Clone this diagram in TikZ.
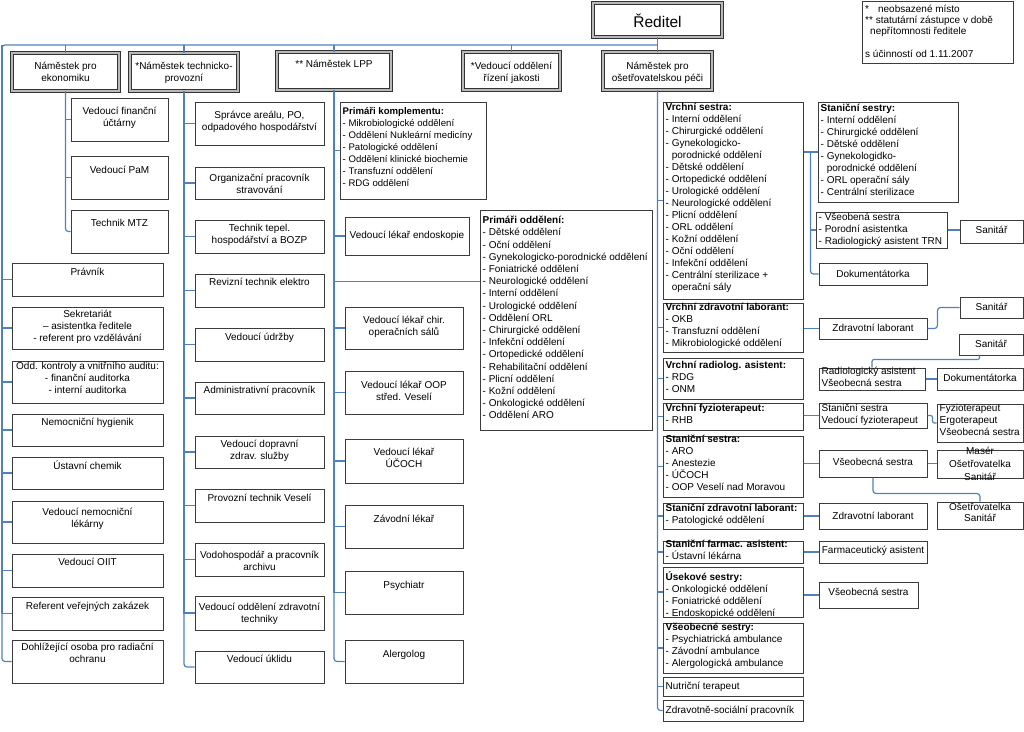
\documentclass[tikz,border=0pt]{standalone}
\usepackage{fontspec}
\setmainfont{Liberation Sans}
\usetikzlibrary{fit}
\definecolor{conncol}{RGB}{79,129,189}
\definecolor{boxcol}{RGB}{60,60,60}
\tikzset{
  bx/.style={draw=boxcol, line width=1pt, inner sep=0pt, rectangle},
  dbx/.style={draw=black!80, double=gray!55, double distance=1.5pt, line width=0.8pt, inner sep=0pt, rectangle},
  conn/.style={draw=conncol, line width=1.2pt},
  ctxt/.style={inner sep=0pt, align=center, font=\fontsize{10}{12}\selectfont, execute at begin node=\strut, execute at end node=\strut},
  ltxt/.style={inner sep=0pt, align=left, font=\fontsize{10}{12}\selectfont, execute at begin node=\strut, execute at end node=\strut},
}
% centred text box: [text style]{name}{x1}{y1}{x2}{y2}{centre of first line}{text}
\newcommand{\CB}[8][]{\node[bx, fit={(#3,#4) (#5,#6)}] (#2) {};
  \node[ctxt,#1, anchor=north] (#2t) at ({(#3+#5)/2},{#7-6}) {#8};}
\newcommand{\LB}[8][]{\node[bx, fit={(#3,#4) (#5,#6)}] (#2) {};
  \node[ltxt,#1, anchor=north west] (#2t) at ({#3+2.5},{#7-6}) {#8};}
\newcommand{\DB}[8][]{\node[dbx, fit={(#3,#4) (#5,#6)}] (#2) {};
  \node[ctxt,#1, anchor=north] (#2t) at ({(#3+#5)/2},{#7-6}) {#8};}
\newcommand{\ind}{\phantom{- }}
\begin{document}
\begin{tikzpicture}[x=1pt,y=-1pt]
\useasboundingbox (0,0) rectangle (1024,731);

% director and legend
\node[dbx, fit={(593,3) (722,37)}] (red) {};
\node[inner sep=0pt, font=\fontsize{15.5}{18}\selectfont] (redt) at (657.5,21) {Ředitel};
\node[bx, fit={(862,1) (1013,63)}] (leg) {};
\node[inner sep=0pt, anchor=north west, align=left, font=\fontsize{10}{11.3}\selectfont, execute at begin node=\strut] (legt) at (865,4.5)
  {*\hspace{0.9em}neobsazené místo\\** statutární zástupce v době\\\hspace{0.5em}nepřítomnosti ředitele\\\mbox{}\\s účinností od 1.11.2007};

% deputies
\DB{eko}{12}{53}{119}{91}{68}{Náměstek pro\\ekonomiku}
\DB{tech}{130}{53}{238}{91}{68}{*Náměstek technicko-\\provozní}
\DB{lpp}{277}{52}{391}{90}{65}{** Náměstek LPP}
\DB{jak}{463}{52}{560}{90}{68}{*Vedoucí oddělení\\řízení jakosti}
\DB{osetr}{603}{52}{712}{90}{68}{Náměstek pro\\ošetřovatelskou péči}

% left column (directly under director)
\CB{pravnik}{12}{263}{163}{296}{273}{Právník}
\CB{sekr}{12}{307}{163}{349}{316}{Sekretariát\\– asistentka ředitele\\- referent pro vzdělávání}
\CB{odd}{12}{361}{163}{403}{368}{Odd. kontroly a vnitřního auditu:\\- finanční auditorka\\- interní auditorka}
\CB{hyg}{12}{414}{163}{446}{423}{Nemocniční hygienik}
\CB{chem}{12}{457}{163}{489}{467}{Ústavní chemik}
\CB{lek}{12}{501}{163}{543}{514}{Vedoucí nemocniční\\lékárny}
\CB{oiit}{12}{554}{163}{587}{563}{Vedoucí OIIT}
\CB{ref}{12}{597}{163}{630}{607}{Referent veřejných zakázek}
\CB{dohl}{12}{640}{163}{683}{649}{Dohlížející osoba pro radiační\\ochranu}

% economy
\CB{fin}{71}{98}{168}{141}{113}{Vedoucí finanční\\účtárny}
\CB{pam}{71}{156}{168}{199}{171}{Vedoucí PaM}
\CB{mtz}{71}{210}{168}{253}{224}{Technik MTZ}

% technical
\CB{spr}{195}{102}{324}{145}{117}{Správce areálu, PO,\\odpadového hospodářství}
\CB{org}{195}{167}{324}{199}{180}{Organizační pracovník\\stravování}
\CB{tep}{195}{220}{324}{253}{230}{Technik tepel.\\hospodářství a BOZP}
\CB{rev}{195}{274}{324}{307}{283}{Revizní technik elektro}
\CB{udr}{195}{328}{324}{361}{338}{Vedoucí údržby}
\CB{adm}{195}{382}{324}{414}{391}{Administrativní pracovník}
\CB{dop}{195}{436}{324}{468}{446}{Vedoucí dopravní\\zdrav. služby}
\CB{prov}{195}{489}{324}{522}{499}{Provozní technik Veselí}
\CB{vod}{195}{543}{324}{576}{557}{Vodohospodář a pracovník\\archivu}
\CB{zdt}{195}{596}{324}{630}{609}{Vedoucí oddělení zdravotní\\techniky}
\CB{ukl}{195}{651}{324}{683}{660}{Vedoucí úklidu}

% LPP
\LB[font=\fontsize{9.6}{12}\selectfont]{kompl}{340}{102}{486}{199}{113}{\textbf{Primáři komplementu:}\\- Mikrobiologické oddělení\\- Oddělení Nukleární medicíny\\- Patologické oddělení\\- Oddělení klinické biochemie\\- Transfuzní oddělení\\- RDG oddělení}
\CB{endo}{345}{217}{469}{255}{236}{Vedoucí lékař endoskopie}
\LB[font=\fontsize{10}{12.2}\selectfont]{prim}{480}{210}{652}{430}{222}{\textbf{Primáři oddělení:}\\- Dětské oddělení\\- Oční oddělení\\- Gynekologicko-porodnické oddělení\\- Foniatrické oddělení\\- Neurologické oddělení\\- Interní oddělení\\- Urologické oddělení\\- Oddělení ORL\\- Chirurgické oddělení\\- Infekční oddělení\\- Ortopedické oddělení\\- Rehabilitační oddělení\\- Plicní oddělení\\- Kožní oddělení\\- Onkologické oddělení\\- Oddělení ARO}
\CB{chir}{345}{307}{463}{349}{322}{Vedoucí lékař chir.\\operačních sálů}
\CB{oop}{345}{371}{463}{414}{387}{Vedoucí lékař OOP\\střed. Veselí}
\CB{ucoch}{345}{439}{463}{483}{454}{Vedoucí lékař\\ÚČOCH}
\CB{zav}{345}{505}{463}{548}{520}{Závodní lékař}
\CB{psy}{345}{571}{463}{614}{586}{Psychiatr}
\CB{aler}{345}{640}{463}{683}{655}{Alergolog}

% nursing column
\LB{vrs}{663}{102}{803}{299}{109}{\textbf{Vrchní sestra:}\\- Interní oddělení\\- Chirurgické oddělení\\- Gynekologicko-\\\ind porodnické oddělení\\- Dětské oddělení\\- Ortopedické oddělení\\- Urologické oddělení\\- Neurologické oddělení\\- Plicní oddělení\\- ORL oddělení\\- Kožní oddělení\\- Oční oddělení\\- Infekční oddělení\\- Centrální sterilizace +\\\ind operační sály}
\LB{vzl}{663}{303}{803}{352}{309}{\textbf{Vrchní zdravotní laborant:}\\- OKB\\- Transfuzní oddělení\\- Mikrobiologické oddělení}
\LB{vra}{663}{358}{803}{399}{367}{\textbf{Vrchní radiolog. asistent:}\\- RDG\\- ONM}
\LB{vfy}{663}{403}{803}{430}{410}{\textbf{Vrchní fyzioterapeut:}\\- RHB}
\LB{sts}{663}{436}{803}{497}{441}{\textbf{Staniční sestra:}\\- ARO\\- Anestezie\\- ÚČOCH\\- OOP Veselí nad Moravou}
\LB{szl}{663}{503}{803}{529}{510}{\textbf{Staniční zdravotní laborant:}\\- Patologické oddělení}
\LB{sfa}{663}{541}{803}{563}{546}{\textbf{Staniční farmac. asistent:}\\- Ústavní lékárna}
\LB{use}{663}{567}{803}{617}{577}{\textbf{Úsekové sestry:}\\- Onkologické oddělení\\- Foniatrické oddělení\\- Endoskopické oddělení}
\LB{vss}{663}{623}{803}{673}{629}{\textbf{Všeobecné sestry:}\\- Psychiatrická ambulance\\- Závodní ambulance\\- Alergologická ambulance}
\LB{nut}{663}{677}{803}{696}{687}{Nutriční terapeut}
\LB{zso}{663}{700}{803}{721}{711}{Zdravotně-sociální pracovník}

% right side
\LB{sts2}{818}{102}{958}{202}{110}{\textbf{Staniční sestry:}\\- Interní oddělení\\- Chirurgické oddělení\\- Dětské oddělení\\- Gynekologidko-\\\ind porodnické oddělení\\- ORL operační sály\\- Centrální sterilizace}
\LB{vsb}{816}{212}{947}{248}{219}{- Všeobená sestra\\- Porodní asistentka\\- Radiologický asistent TRN}
\CB{san1}{960}{220}{1023}{243}{231}{Sanitář}
\CB{dok1}{819}{263}{927}{285}{275}{Dokumentátorka}
\CB{zl1}{819}{318}{927}{339}{329}{Zdravotní laborant}
\CB{san2}{960}{297}{1023}{318}{308}{Sanitář}
\CB{san3}{959}{334}{1023}{355}{345}{Sanitář}
\LB{rad}{819}{368}{925}{390}{373}{Radiologický asistent\\Všeobecná sestra}
\CB{dok2}{937}{368}{1023}{390}{379}{Dokumentátorka}
\LB{sfv}{819}{403}{927}{428}{410}{Staniční sestra\\Vedoucí fyzioterapeut}
\LB{fyz}{937}{404}{1023}{442}{410}{Fyzioterapeut\\Ergoterapeut\\Všeobecná sestra}
\CB{vs2}{819}{450}{927}{477}{463}{Všeobecná sestra}
\CB[font=\fontsize{10}{13}\selectfont]{mas}{937}{450}{1023}{478}{453}{Masér\\Ošetřovatelka\\Sanitář}
\CB[font=\fontsize{10}{11}\selectfont]{os}{937}{502}{1023}{529}{509}{Ošetřovatelka\\Sanitář}
\CB{zl2}{819}{503}{927}{529}{517}{Zdravotní laborant}
\CB{fa}{819}{541}{927}{563}{551}{Farmaceutický asistent}
\CB{vs3}{819}{582}{918}{608}{593}{Všeobecná sestra}

% ---------- connectors ----------
\coordinate (busL) at (2,45);
\draw[conn] (red.south) -- (osetr.north);
\draw[conn, rounded corners=3pt] (red.south |- busL) -- (busL) |- (dohl.west);
\foreach \n in {eko,tech,lpp,jak} \draw[conn] (\n.north) -- (\n.north |- busL);
\foreach \n in {pravnik,sekr,odd,hyg,chem,lek,oiit,ref} \draw[conn] (busL) |- (\n.west);
\foreach \n in {fin,pam} \draw[conn] (eko.south) |- (\n.west);
\draw[conn, rounded corners=3pt] (eko.south) |- (mtz.west);
\foreach \n in {spr,org,tep,rev,udr,adm,dop,prov,vod,zdt} \draw[conn] (tech.south) |- (\n.west);
\draw[conn, rounded corners=3pt] (tech.south) |- (ukl.west);
\foreach \n in {kompl,endo,chir,oop,ucoch,zav,psy} \draw[conn] (lpp.south) |- (\n.west);
\draw[conn] (lpp.south) |- ([yshift=-72pt]prim.north west);
\draw[conn, rounded corners=3pt] (lpp.south) |- (aler.west);
\foreach \n in {vrs,vzl,vra,vfy,sts,szl,sfa,use,vss,nut} \draw[conn] (osetr.south) |- (\n.west);
\draw[conn, rounded corners=3pt] (osetr.south) |- (zso.west);

\draw[conn] (vrs.east |- sts2.west) -- (sts2.west);
\draw[conn] ([xshift=-7pt]sts2.west) |- (vsb.west);
\draw[conn, rounded corners=3pt] ([xshift=-7pt]sts2.west) |- (dok1.west);
\draw[conn] (vsb.east) -- (vsb.east -| san1.west);
\draw[conn] (zl1.west -| vzl.east) -- (zl1.west);
\draw[conn, rounded corners=3pt] (zl1.east) -- ++(10,0) |- (san2.west);
\draw[conn, rounded corners=2pt] ([xshift=21pt]san3.south west) -- ++(0,4) -| (rad.north);
\draw[conn] (rad.east) -- (dok2.west);
\draw[conn] (sfv.west -| vfy.east) -- (sfv.west);
\draw[conn, rounded corners=2pt] (sfv.east) -- ++(5,0) |- (fyz.west);
\draw[conn] (vs2.west -| sts.east) -- (vs2.west);
\draw[conn] (vs2.east) -- (vs2.east -| mas.west);
\draw[conn, rounded corners=3pt] (vs2.south) -- ++(0,16) -| (os.north);
\draw[conn] (szl.east) -- (szl.east -| zl2.west);
\draw[conn] (sfa.east) -- (sfa.east -| fa.west);
\draw[conn] (vs3.west -| use.east) -- (vs3.west);
\end{tikzpicture}
\end{document}
